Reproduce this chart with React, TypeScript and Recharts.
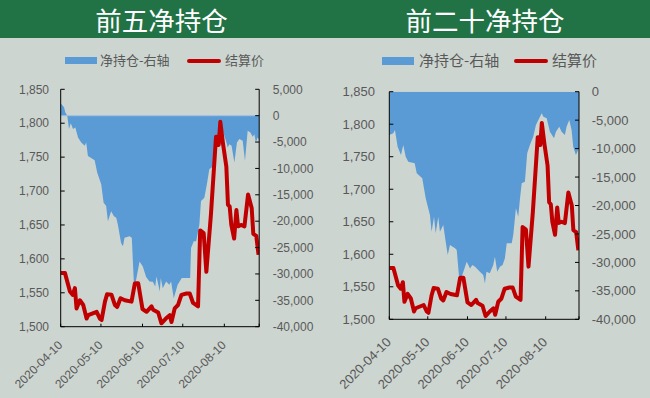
import React from 'react';
import { ComposedChart, Area, Line, XAxis, YAxis, ReferenceLine } from 'recharts';

// ---- tick labels ----
const dateTickDays = [0, 30, 61, 91, 122, 148];
const dateTickLabels = ['2020-04-10', '2020-05-10', '2020-06-10', '2020-07-10', '2020-08-10', ''];
const priceTicks = [1500, 1550, 1600, 1650, 1700, 1750, 1800, 1850];
const top5Ticks = [-40000, -35000, -30000, -25000, -20000, -15000, -10000, -5000, 0, 5000];
const top20Ticks = [-40000, -35000, -30000, -25000, -20000, -15000, -10000, -5000, 0];

// ---- settlement price (days since 2020-04-10) ----
const priceDays = [0, 3.2, 6.9, 8.9, 10.6, 11.8, 14.3, 16.8, 19.3, 20.5, 26.8, 29.2, 30.5, 33, 34.6, 37.9, 40.4, 42.1, 44.6, 47.8, 52.8, 55.3, 57.8, 61, 64, 67.7, 68.9, 72.7, 75.1, 78.4, 81.3, 82.6, 85, 87.5, 90, 93.8, 96.2, 98.7, 102.4, 104, 106.6, 108.6, 112, 115.8, 117, 117.8, 119, 121, 123.5, 124.7, 126, 127.2, 129.3, 131, 132.2, 134.4, 137, 139.7, 142.4, 143.6, 145.8, 147.5];
const priceValues = [1579, 1579, 1552, 1547, 1557, 1527, 1539, 1532, 1512, 1517, 1522, 1512, 1510, 1537, 1548, 1547, 1532, 1529, 1542, 1539, 1537, 1564, 1564, 1526, 1522, 1530, 1525, 1521, 1505, 1512, 1517, 1507, 1527, 1532, 1547, 1549, 1549, 1535, 1530, 1642, 1638, 1581, 1665, 1780, 1780, 1768, 1802, 1770, 1736, 1680, 1677, 1650, 1630, 1672, 1648, 1650, 1648, 1695, 1675, 1637, 1634, 1606];

// ---- top 5 net position ----
const top5Days = [0, 2.5, 3.4, 4.9, 6.2, 7.5, 9.2, 10.9, 12.9, 15.3, 17.9, 19, 20.3, 25.3, 27.2, 30.2, 32, 33.9, 35.2, 37.6, 39.7, 41.4, 42.6, 45, 46.4, 47.6, 51.3, 53, 54.5, 56, 58.8, 61.2, 63.7, 66.2, 68.7, 70.5, 71.4, 73.9, 74.6, 76.1, 78.6, 81, 82.3, 84.3, 87.2, 90.3, 96.5, 97.2, 99.2, 101, 103.4, 104.6, 107.1, 109, 110.8, 114, 115.8, 117.5, 119, 120.8, 123.2, 124.5, 125.7, 127.4, 129.5, 131.4, 133.2, 135.7, 137.4, 139.4, 141.4, 143.2, 144.4, 145.5, 146.8, 148];
const top5Values = [2360, 1600, 650, 0, -2530, -1450, -2530, -2220, -4120, -5080, -5710, -5080, -7620, -8440, -10780, -13010, -16500, -17140, -20000, -18100, -19050, -19360, -20630, -24120, -24760, -23160, -22860, -23160, -31430, -31430, -27620, -28570, -30600, -31430, -31500, -32380, -30480, -33340, -30790, -32690, -31430, -32060, -31430, -34600, -32060, -30790, -30790, -25070, -23810, -23810, -20630, -16190, -15550, -13010, -10150, -9520, -5390, -3170, -1580, -2860, -4760, -6030, -5400, -5700, -8880, -5080, -4440, -4760, -8570, -2860, -3170, -4000, -3500, -5080, -4130, -4500];

// ---- top 20 net position ----
const top20Days = [0, 3.1, 4.4, 6.5, 9.1, 10.9, 12.8, 14.8, 19.8, 21.4, 25.7, 28.4, 31.7, 33, 34.9, 36.2, 38.2, 39.5, 42.1, 44, 45.6, 47.3, 51.3, 52.6, 54.4, 56.5, 60.4, 63, 64.8, 66.9, 70.7, 73.3, 74.6, 75.8, 78.4, 81.1, 82.4, 84.2, 86.3, 88.4, 90.2, 91.6, 95.5, 96.7, 98.8, 100.6, 102, 103.3, 105.8, 107.6, 109.7, 112.3, 114.4, 117, 118.9, 120.2, 122.8, 125.3, 128.5, 130, 132.6, 134.4, 137, 138.3, 140.4, 142.2, 143.5, 145.6, 147.3, 148];
const top20Values = [-7610, -7310, -6730, -9660, -11120, -9370, -11420, -12300, -12580, -14340, -15220, -18730, -21670, -24600, -21960, -24890, -21960, -24600, -23430, -26360, -28700, -26940, -27520, -27800, -32510, -32510, -29880, -31050, -30460, -30750, -31640, -32220, -33690, -31640, -31900, -30460, -29000, -31640, -30750, -30460, -29290, -26650, -26650, -25190, -20500, -21960, -18730, -16100, -15820, -10830, -9370, -7910, -5850, -4680, -3800, -4390, -4680, -7030, -8200, -7030, -6150, -7030, -7610, -6150, -4970, -6730, -9660, -11120, -10250, -10000];

const priceData = priceDays.map((d, i) => ({ d, v: priceValues[i] }));
const top5Data = top5Days.map((d, i) => ({ d, v: top5Values[i] }));
const top20Data = top20Days.map((d, i) => ({ d, v: top20Values[i] }));

const fmt = (v: number) => v.toLocaleString('en-US');
const labelFor = (v: number) => {
  const i = dateTickDays.indexOf(v);
  return i >= 0 ? dateTickLabels[i] : '';
};

const BG = '#cdd5d0';
const GREEN = '#217346';
const BLUE = '#5b9bd5';
const RED = '#c00000';
const TXT = '#595959';
const NUM_FONT = '"Liberation Sans", Arial, sans-serif';
const CJK_FONT = '"Noto Sans CJK SC", sans-serif';

type PanelProps = {
  offsetX: number;
  top: number;
  xAxisHeight: number;
  leftW: number;
  rightW: number;
  fs: number;
  netData: { d: number; v: number }[];
  netTicks: number[];
  netDomain: [number, number];
  leftMargin: number;
  rightMargin: number;
  dateDx: number;
  dateDy: number;
  zeroLine: boolean;
};

function Panel(p: PanelProps) {
  const dateTick = (props: any) => {
    const { x, y, payload } = props;
    const label = labelFor(payload.value);
    if (!label) return <g />;
    const tx = x + p.dateDx;
    const ty = y + p.dateDy;
    return (
      <text
        x={tx}
        y={ty}
        textAnchor="end"
        transform={`rotate(-45 ${tx} ${ty})`}
        fontSize={p.fs}
        fontFamily={NUM_FONT}
        fill={TXT}
      >
        {label}
      </text>
    );
  };
  return (
    <div style={{ position: 'absolute', left: p.offsetX, top: 0, width: 325, height: 398 }}>
      <ComposedChart width={325} height={398} margin={{ top: p.top, right: 0, bottom: 0, left: 0 }}>
        <XAxis
          dataKey="d"
          type="number"
          domain={[0, 148]}
          ticks={dateTickDays}
          interval={0}
          height={p.xAxisHeight}
          tickSize={-3}
          tickMargin={0}
          axisLine={{ stroke: '#000', strokeWidth: 1 }}
          tickLine={{ stroke: '#000', strokeWidth: 1 }}
          tick={dateTick}
          allowDataOverflow
        />
        <YAxis
          yAxisId="p"
          orientation="left"
          domain={[1500, 1850]}
          ticks={priceTicks}
          interval={0}
          width={p.leftW}
          tickSize={-4}
          tickMargin={p.leftMargin}
          tickFormatter={fmt}
          axisLine={{ stroke: '#000', strokeWidth: 1 }}
          tickLine={{ stroke: '#000', strokeWidth: 1 }}
          tick={{ fill: TXT, fontSize: p.fs, fontFamily: NUM_FONT }}
          allowDataOverflow
        />
        <YAxis
          yAxisId="n"
          orientation="right"
          domain={p.netDomain}
          ticks={p.netTicks}
          interval={0}
          width={p.rightW}
          tickSize={-4}
          tickMargin={p.rightMargin}
          tickFormatter={fmt}
          axisLine={{ stroke: '#000', strokeWidth: 1 }}
          tickLine={{ stroke: '#000', strokeWidth: 1 }}
          tick={{ fill: TXT, fontSize: p.fs, fontFamily: NUM_FONT, textAnchor: 'start' }}
          allowDataOverflow
        />
        <Area
          yAxisId="n"
          data={p.netData}
          dataKey="v"
          type="linear"
          baseValue={0}
          fill={BLUE}
          fillOpacity={1}
          stroke="none"
          isAnimationActive={false}
        />
        {p.zeroLine && <ReferenceLine yAxisId="n" y={0} stroke="#9fc0e2" strokeWidth={1} />}
        <Line
          yAxisId="p"
          data={priceData}
          dataKey="v"
          type="linear"
          stroke={RED}
          strokeWidth={4}
          strokeLinejoin="round"
          dot={false}
          activeDot={false}
          isAnimationActive={false}
        />
      </ComposedChart>
    </div>
  );
}

function LegendRow(props: { x1: number; t1: number; x2: number; t2: number; fs: number; cy: number }) {
  const lh = 20;
  const centerOffset = (lh - props.fs * 1.448) / 2 + props.fs * 1.16 - props.fs * 0.38;
  const top = props.cy - centerOffset;
  const textStyle: React.CSSProperties = {
    position: 'absolute',
    top,
    height: lh,
    lineHeight: `${lh}px`,
    fontSize: props.fs,
    fontFamily: CJK_FONT,
    color: TXT,
    whiteSpace: 'nowrap',
  };
  return (
    <>
      <div style={{ position: 'absolute', left: props.x1, top: props.cy - 3.8, width: 32, height: 7.6, background: BLUE }} />
      <div style={{ ...textStyle, left: props.t1 }}>净持仓-右轴</div>
      <div style={{ position: 'absolute', left: props.x2, top: props.cy - 2, width: 34, height: 4, borderRadius: 2, background: RED }} />
      <div style={{ ...textStyle, left: props.t2 }}>结算价</div>
    </>
  );
}

export default function App() {
  const titleStyle: React.CSSProperties = {
    position: 'absolute',
    top: 0,
    lineHeight: 'normal',
    fontSize: 26.5,
    fontFamily: CJK_FONT,
    color: '#ffffff',
    textAlign: 'center',
    whiteSpace: 'nowrap',
  };
  return (
    <div style={{ position: 'absolute', left: 0, top: 0, width: 650, height: 398, background: BG, overflow: 'hidden' }}>
      <div style={{ position: 'absolute', left: 0, top: 0, width: 650, height: 38, background: GREEN }} />
      <div style={{ ...titleStyle, left: 61.5, width: 200 }}>前五净持仓</div>
      <div style={{ ...titleStyle, left: 385, width: 200 }}>前二十净持仓</div>

      <LegendRow x1={65} t1={100} x2={187} t2={225} fs={13} cy={60.6} />
      <LegendRow x1={382} t1={419} x2={514} t2={552} fs={15} cy={61.2} />

      <Panel
        offsetX={0}
        top={89.3}
        xAxisHeight={71.3}
        leftW={60.7}
        rightW={65.8}
        fs={12}
        netData={top5Data}
        netTicks={top5Ticks}
        netDomain={[-40000, 5000]}
        leftMargin={15.7}
        rightMargin={17.5}
        dateDx={2.5}
        dateDy={22}
        zeroLine={true}
      />
      <Panel
        offsetX={325}
        top={91.7}
        xAxisHeight={78.7}
        leftW={64.3}
        rightW={71}
        fs={13}
        netData={top20Data}
        netTicks={top20Ticks}
        netDomain={[-40000, 0]}
        leftMargin={18.3}
        rightMargin={16.7}
        dateDx={2.5}
        dateDy={26.5}
        zeroLine={false}
      />
    </div>
  );
}
